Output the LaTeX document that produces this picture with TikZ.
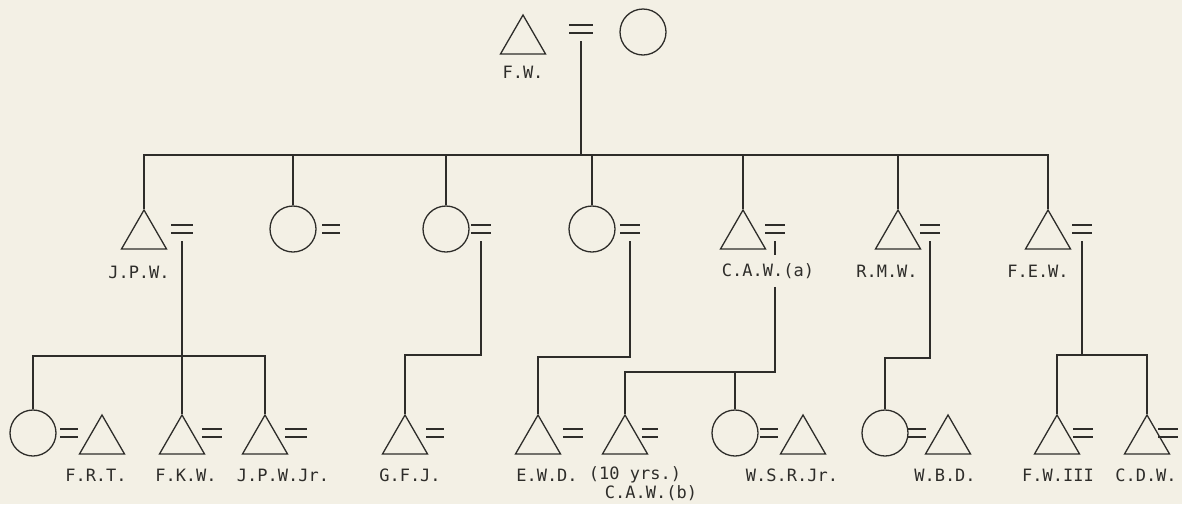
\documentclass[tikz,border=0pt]{standalone}
\usepackage{fontspec}
\setmonofont{DejaVu Sans Mono}
\usetikzlibrary{shapes.geometric}
\definecolor{KinInk}{HTML}{2E2D2A}
\definecolor{KinPaper}{HTML}{F3F0E5}

\begin{document}
\begin{tikzpicture}[
    x=1pt,y=-1pt,font=\ttfamily\fontsize{17}{19}\selectfont,
    male/.style={regular polygon,regular polygon sides=3,draw=KinInk,line width=1.3pt,
      minimum size=52pt,inner sep=0pt},
    female/.style={circle,draw=KinInk,line width=1.3pt,minimum size=46pt,inner sep=0pt},
    wed/.style={minimum width=#1,minimum height=8pt,inner sep=0pt,outer sep=0pt},
    wed/.default=20pt,
    initials/.style={text=KinInk,inner sep=2pt},
    kin/.style={draw=KinInk,line width=1.5pt},
    drop/.style={kin,shorten <=8pt}
  ]
    \fill[KinPaper] (0,0) rectangle (1182,504);
    \useasboundingbox (0,0) rectangle (1182,504);

    \node[male] (fw) at (523,41) {};
    \node[wed=24pt] (fwm) at (581,29) {};
    \node[female] (fwwife) at (643,32) {};
    \node[initials] (lfw) at (523,72) {F.W.};

    \coordinate (barT) at (0,155);
    \node[male] (jpw) at (144,236) {};
    \node[wed=22pt] (jpwm) at (182,229) {};
    \node[initials] (ljpw) at (139,272) {J.P.W.};
    \node[female] (d2) at (293,229) {};
    \node[wed=18pt] (d2m) at (331,229) {};
    \node[female] (d3) at (446,229) {};
    \node[wed] (d3m) at (481,229) {};
    \node[female] (d4) at (592,229) {};
    \node[wed] (d4m) at (630,229) {};
    \node[male] (cawa) at (743,236) {};
    \node[wed] (cawam) at (775,229) {};
    \node[initials,inner ysep=8pt] (lcawa) at (768,271) {C.A.W.(a)};
    \node[male] (rmw) at (898,236) {};
    \node[wed] (rmwm) at (930,229) {};
    \node[initials] (lrmw) at (887,271) {R.M.W.};
    \node[male] (few) at (1048,236) {};
    \node[wed] (fewm) at (1082,229) {};
    \node[initials] (lfew) at (1038,271) {F.E.W.};

    \coordinate (barA) at (0,356);
    \node[female] (frtw) at (33,433) {};
    \node[wed=18pt] (frtm) at (69,433) {};
    \node[male] (frt) at (102,441) {};
    \node[initials] (lfrt) at (96,475) {F.R.T.};
    \node[male] (fkw) at (182,441) {};
    \node[wed] (fkwm) at (212,433) {};
    \node[initials] (lfkw) at (186,475) {F.K.W.};
    \node[male] (jpwjr) at (265,441) {};
    \node[wed=22pt] (jpwjrm) at (296,433) {};
    \node[initials] (ljpwjr) at (283,475) {J.P.W.Jr.};

    \coordinate (barB) at (0,355);
    \node[male] (gfj) at (405,441) {};
    \node[wed=18pt] (gfjm) at (435,433) {};
    \node[initials] (lgfj) at (410,475) {G.F.J.};

    \coordinate (barC) at (0,357);
    \node[male] (ewd) at (538,441) {};
    \node[wed] (ewdm) at (573,433) {};
    \node[initials] (lewd) at (547,475) {E.W.D.};

    \coordinate (barD) at (0,372);
    \node[male] (cawb) at (625,441) {};
    \node[wed=16pt] (cawbm) at (650,433) {};
    \node[initials] (lyrs) at (635,475) {(10 yrs.)};
    \node[initials] (lcawb) at (651,493) {C.A.W.(b)};
    \node[female] (wsrw) at (735,433) {};
    \node[wed=18pt] (wsrm) at (769,433) {};
    \node[male] (wsr) at (803,441) {};
    \node[initials] (lwsr) at (792,475) {W.S.R.Jr.};

    \coordinate (barE) at (0,358);
    \node[female] (wbdw) at (885,433) {};
    \node[wed=18pt] (wbdm) at (917,433) {};
    \node[male] (wbd) at (948,441) {};
    \node[initials] (lwbd) at (945,475) {W.B.D.};

    \coordinate (barF) at (0,355);
    \node[male] (fw3) at (1057,441) {};
    \node[wed] (fw3m) at (1083,433) {};
    \node[initials] (lfw3) at (1058,475) {F.W.III};
    \node[male] (cdw) at (1147,441) {};
    \node[wed] (cdwm) at (1168,433) {};
    \node[initials] (lcdw) at (1146,475) {C.D.W.};

    \foreach \m in {fwm,jpwm,d2m,d3m,d4m,cawam,rmwm,fewm,frtm,fkwm,jpwjrm,gfjm,ewdm,cawbm,wsrm,wbdm,fw3m,cdwm}
      \draw[kin] (\m.north west) -- (\m.north east) (\m.south west) -- (\m.south east);

    \draw[drop] (fwm.south) -- (fwm.south |- barT);
    \draw[kin] (jpw.north) |- (few.north |- barT) -- (few.north);
    \foreach \n in {d2,d3,d4,cawa,rmw}
      \draw[kin] (\n.north) -- (\n.north |- barT);

    \draw[drop] (jpwm.south) -- (fkw.north);
    \draw[kin] (frtw.north) |- (jpwjr.north |- barA) -- (jpwjr.north);
    \draw[drop] (d3m.south) |- (gfj.north |- barB) -- (gfj.north);
    \draw[drop] (d4m.south) |- (ewd.north |- barC) -- (ewd.north);
    \draw[drop] (cawam.south) -- (cawam.south |- lcawa.north);
    \draw[kin] (cawam.south |- lcawa.south) |- (cawb.north |- barD) -- (cawb.north);
    \draw[kin] (wsrw.north) -- (wsrw.north |- barD);
    \draw[drop] (rmwm.south) |- (wbdw.north |- barE) -- (wbdw.north);
    \draw[drop] (fewm.south) -- (fewm.south |- barF);
    \draw[kin] (fw3.north) |- (cdw.north |- barF) -- (cdw.north);
  \end{tikzpicture}
\end{document}
